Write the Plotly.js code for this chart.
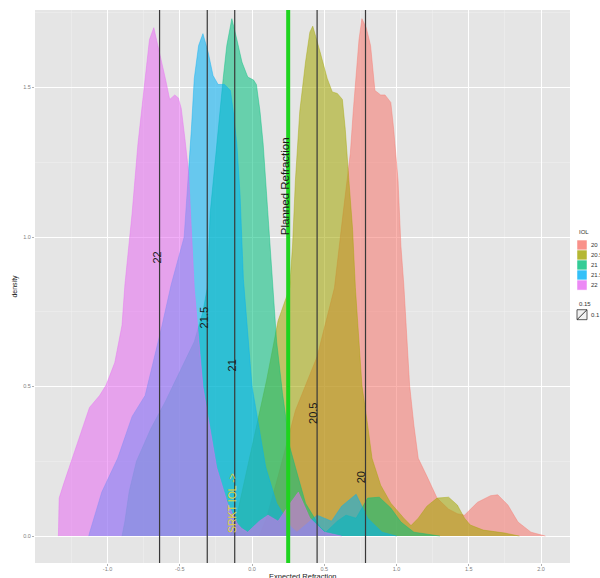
<!DOCTYPE html>
<html>
<head>
<meta charset="utf-8">
<script src="https://cdn.plot.ly/plotly-3.0.1.min.js"></script>
<style>
  html, body { margin: 0; padding: 0; background: #ffffff; }
  #chart { width: 600px; height: 578px; }
</style>
</head>
<body>
<div id="chart"></div>
<script>
// IOL powers and their ggplot hue colours
const iolLevels = ['20', '20.5', '21', '21.5', '22'];
const iolColors = ['#F8766D', '#A3A500', '#00BF7D', '#00B0F6', '#E76BF3'];

// Density of expected refraction for each IOL power
const x20 = [0.05, 0.10, 0.18, 0.30, 0.45, 0.57, 0.63, 0.68, 0.70, 0.72, 0.74, 0.76, 0.79, 0.82, 0.85, 0.89, 0.92, 0.96, 0.98, 1.01, 1.03, 1.05, 1.07, 1.09, 1.12, 1.15, 1.21, 1.28, 1.36, 1.42, 1.47, 1.56, 1.65, 1.70, 1.77, 1.84, 1.93, 2.03];
const d20 = [0, 0.06, 0.20, 0.42, 0.60, 0.83, 1.08, 1.28, 1.42, 1.55, 1.66, 1.73, 1.70, 1.64, 1.49, 1.475, 1.475, 1.45, 1.36, 1.19, 0.97, 0.84, 0.67, 0.505, 0.37, 0.26, 0.20, 0.127, 0.09, 0.075, 0.07, 0.113, 0.135, 0.138, 0.104, 0.047, 0.013, 0];

const x205 = [-0.15, -0.10, 0.0, 0.10, 0.18, 0.26, 0.28, 0.30, 0.33, 0.37, 0.40, 0.42, 0.47, 0.52, 0.555, 0.59, 0.625, 0.645, 0.67, 0.695, 0.715, 0.76, 0.80, 0.83, 0.89, 0.96, 1.05, 1.10, 1.15, 1.21, 1.28, 1.36, 1.42, 1.47, 1.51, 1.60, 1.75, 1.85];
const d205 = [0, 0.08, 0.30, 0.52, 0.72, 0.83, 0.97, 1.19, 1.42, 1.585, 1.685, 1.705, 1.62, 1.53, 1.485, 1.48, 1.46, 1.36, 1.19, 1.03, 0.83, 0.505, 0.37, 0.26, 0.17, 0.11, 0.06, 0.035, 0.06, 0.10, 0.127, 0.13, 0.104, 0.06, 0.037, 0.02, 0.01, 0];

const x21 = [-0.90, -0.88, -0.85, -0.80, -0.70, -0.60, -0.50, -0.40, -0.34, -0.31, -0.29, -0.245, -0.20, -0.175, -0.14, -0.105, -0.07, -0.03, 0.01, 0.03, 0.055, 0.077, 0.10, 0.14, 0.17, 0.21, 0.26, 0.30, 0.37, 0.47, 0.51, 0.59, 0.65, 0.72, 0.80, 0.88, 0.96, 1.03, 1.12, 1.30];
const d21 = [0, 0.05, 0.15, 0.25, 0.36, 0.45, 0.55, 0.65, 0.75, 0.83, 1.08, 1.31, 1.53, 1.64, 1.73, 1.66, 1.585, 1.535, 1.525, 1.51, 1.42, 1.31, 1.14, 0.84, 0.65, 0.48, 0.30, 0.23, 0.11, 0.03, 0.013, 0.05, 0.07, 0.06, 0.127, 0.13, 0.094, 0.047, 0.013, 0];

const x215 = [-1.13, -1.125, -1.04, -0.93, -0.83, -0.74, -0.625, -0.56, -0.47, -0.44, -0.42, -0.40, -0.37, -0.34, -0.305, -0.27, -0.235, -0.19, -0.15, -0.13, -0.105, -0.083, -0.06, 0.0, 0.095, 0.17, 0.27, 0.31, 0.38, 0.45, 0.55, 0.62, 0.72, 0.80, 0.90, 1.0];
const d215 = [0, 0.01, 0.147, 0.26, 0.40, 0.47, 0.70, 0.84, 1.0, 1.2, 1.36, 1.53, 1.64, 1.68, 1.62, 1.54, 1.51, 1.51, 1.49, 1.42, 1.31, 1.14, 0.86, 0.50, 0.23, 0.11, 0.03, 0.013, 0.04, 0.07, 0.05, 0.10, 0.14, 0.06, 0.013, 0];

const x22 = [-1.34, -1.335, -1.30, -1.23, -1.16, -1.125, -1.055, -1.01, -0.95, -0.90, -0.88, -0.83, -0.79, -0.74, -0.71, -0.68, -0.645, -0.60, -0.57, -0.535, -0.51, -0.49, -0.465, -0.44, -0.40, -0.34, -0.245, -0.17, -0.10, -0.07, -0.03, 0.05, 0.11, 0.18, 0.25, 0.32, 0.40, 0.50, 0.62];
const d22 = [0, 0.127, 0.18, 0.28, 0.38, 0.43, 0.47, 0.505, 0.58, 0.705, 0.84, 1.08, 1.31, 1.53, 1.66, 1.70, 1.63, 1.53, 1.46, 1.475, 1.465, 1.43, 1.33, 1.22, 0.83, 0.50, 0.23, 0.11, 0.04, 0.025, 0.013, 0.05, 0.07, 0.05, 0.10, 0.147, 0.06, 0.013, 0];

const seriesX = [x20, x205, x21, x215, x22];
const seriesD = [d20, d205, d21, d215, d22];

// Reference lines: expected refraction per IOL, and the planned target
const lineValues = [0.785, 0.45, -0.12, -0.31, -0.64];
const lineLabels = ['20', '20.5', '21', '21.5', '22'];
const labelX = [0.755, 0.425, -0.14, -0.335, -0.66];
const labelY = [0.197, 0.41, 0.57, 0.73, 0.93];
const plannedRefraction = 0.25;
const plannedLabel = 'Planned Refraction';
const srktLabel = 'SRKT IOL ->';

// Axis ticks
const xTicks = [-1.0, -0.5, 0.0, 0.5, 1.0, 1.5, 2.0];
const xTickText = ['-1.0', '-0.5', '0.0', '0.5', '1.0', '1.5', '2.0'];
const yTicks = [0.0, 0.5, 1.0, 1.5];
const yTickText = ['0.0', '0.5', '1.0', '1.5'];

const FONT = 'Liberation Sans, Arial, sans-serif';

function rgba(hex, a) {
  const n = parseInt(hex.slice(1), 16);
  return 'rgba(' + (n >> 16) + ',' + ((n >> 8) & 255) + ',' + (n & 255) + ',' + a + ')';
}

const traces = iolLevels.map((lvl, i) => ({
  type: 'scatter',
  mode: 'lines',
  name: lvl,
  x: seriesX[i],
  y: seriesD[i],
  fill: 'tozeroy',
  fillcolor: rgba(iolColors[i], 0.55),
  line: { color: rgba(iolColors[i], 0.7), width: 0.6 },
  hoverinfo: 'skip',
  showlegend: false
}));

const shapes = lineValues.map(v => ({
  type: 'line', xref: 'x', yref: 'paper', x0: v, x1: v, y0: 0, y1: 1,
  line: { color: '#383838', width: 1.2 }
}));
shapes.push({
  type: 'line', xref: 'x', yref: 'paper', x0: plannedRefraction, x1: plannedRefraction, y0: 0, y1: 1,
  line: { color: '#1ED41E', width: 4 }
});

const annotations = lineLabels.map((t, i) => ({
  text: t, x: labelX[i], y: labelY[i], xref: 'x', yref: 'y',
  textangle: -90, showarrow: false,
  font: { family: FONT, size: 11, color: '#1a1a1a' }
}));
annotations.push({
  text: plannedLabel, x: 0.228, y: 1.17, xref: 'x', yref: 'y',
  textangle: -90, showarrow: false,
  font: { family: FONT, size: 11.5, color: '#1a1a1a' }
});
annotations.push({
  text: srktLabel, x: -0.14, y: 0.11, xref: 'x', yref: 'y',
  textangle: -90, showarrow: false,
  font: { family: FONT, size: 10.5, color: '#E3D437' }
});

// x-axis title sits just under the tick labels
annotations.push({
  text: 'Expected Refraction', x: 0.5, y: -0.0125, xref: 'paper', yref: 'paper',
  xanchor: 'center', yanchor: 'top', showarrow: false,
  font: { family: FONT, size: 7.5, color: '#1a1a1a' }
});

// Legend, drawn beside the panel
const keyX0 = 1.0131, keyX1 = 1.0318;
const keyTop = 0.584, keyH = 0.0181;
annotations.push({
  text: 'IOL', x: keyX0, y: keyTop + 0.006, xref: 'paper', yref: 'paper',
  xanchor: 'left', yanchor: 'bottom', showarrow: false,
  font: { family: FONT, size: 6, color: '#333333' }
});
iolLevels.forEach((lvl, i) => {
  const y1 = keyTop - i * keyH, y0 = y1 - keyH;
  shapes.push({
    type: 'rect', xref: 'paper', yref: 'paper', x0: keyX0, x1: keyX1, y0: y0, y1: y1,
    fillcolor: rgba(iolColors[i], 0.8), line: { color: '#ffffff', width: 0.5 }
  });
  annotations.push({
    text: lvl, x: keyX1 + 0.004, y: (y0 + y1) / 2, xref: 'paper', yref: 'paper',
    xanchor: 'left', yanchor: 'middle', showarrow: false,
    font: { family: FONT, size: 6, color: '#333333' }
  });
});
annotations.push({
  text: '0.15', x: keyX0, y: 0.46, xref: 'paper', yref: 'paper',
  xanchor: 'left', yanchor: 'bottom', showarrow: false,
  font: { family: FONT, size: 6, color: '#333333' }
});
shapes.push({
  type: 'rect', xref: 'paper', yref: 'paper', x0: keyX0, x1: keyX1, y0: 0.44, y1: 0.458,
  fillcolor: '#f2f2f2', line: { color: '#333333', width: 0.8 }
});
shapes.push({
  type: 'line', xref: 'paper', yref: 'paper', x0: keyX0, x1: keyX1, y0: 0.44, y1: 0.458,
  line: { color: '#333333', width: 1 }
});
annotations.push({
  text: '0.1', x: keyX1 + 0.004, y: 0.449, xref: 'paper', yref: 'paper',
  xanchor: 'left', yanchor: 'middle', showarrow: false,
  font: { family: FONT, size: 6, color: '#333333' }
});

const layout = {
  width: 600, height: 578,
  margin: { l: 35, r: 30, t: 10, b: 15 },
  paper_bgcolor: '#ffffff',
  plot_bgcolor: '#E5E5E5',
  font: { family: FONT },
  xaxis: {
    range: [-1.502, 2.20],
    tickvals: xTicks, ticktext: xTickText,
    ticks: 'outside', ticklen: 2, tickcolor: '#7f7f7f', tickwidth: 0.6,
    tickfont: { size: 5.5, color: '#7f7f7f' },
    ticklabelstandoff: -2,
    showgrid: true, gridcolor: '#ffffff', gridwidth: 1,
    minor: { dtick: 0.25, showgrid: true, gridcolor: '#F2F2F2', gridwidth: 0.5 },
    zeroline: false, showline: false,
    automargin: false
  },
  yaxis: {
    range: [-0.09, 1.759],
    tickvals: yTicks, ticktext: yTickText,
    ticks: 'outside', ticklen: 2, tickcolor: '#7f7f7f', tickwidth: 0.6,
    tickfont: { size: 5.5, color: '#7f7f7f' },
    showgrid: true, gridcolor: '#ffffff', gridwidth: 1,
    minor: { dtick: 0.25, showgrid: true, gridcolor: '#F2F2F2', gridwidth: 0.5 },
    zeroline: false, showline: false,
    title: { text: 'density', font: { size: 7, color: '#1a1a1a' }, standoff: 4 },
    automargin: false
  },
  shapes: shapes,
  annotations: annotations,
  showlegend: false
};

Plotly.newPlot('chart', traces, layout, { displayModeBar: false, staticPlot: true });
</script>
</body>
</html>
